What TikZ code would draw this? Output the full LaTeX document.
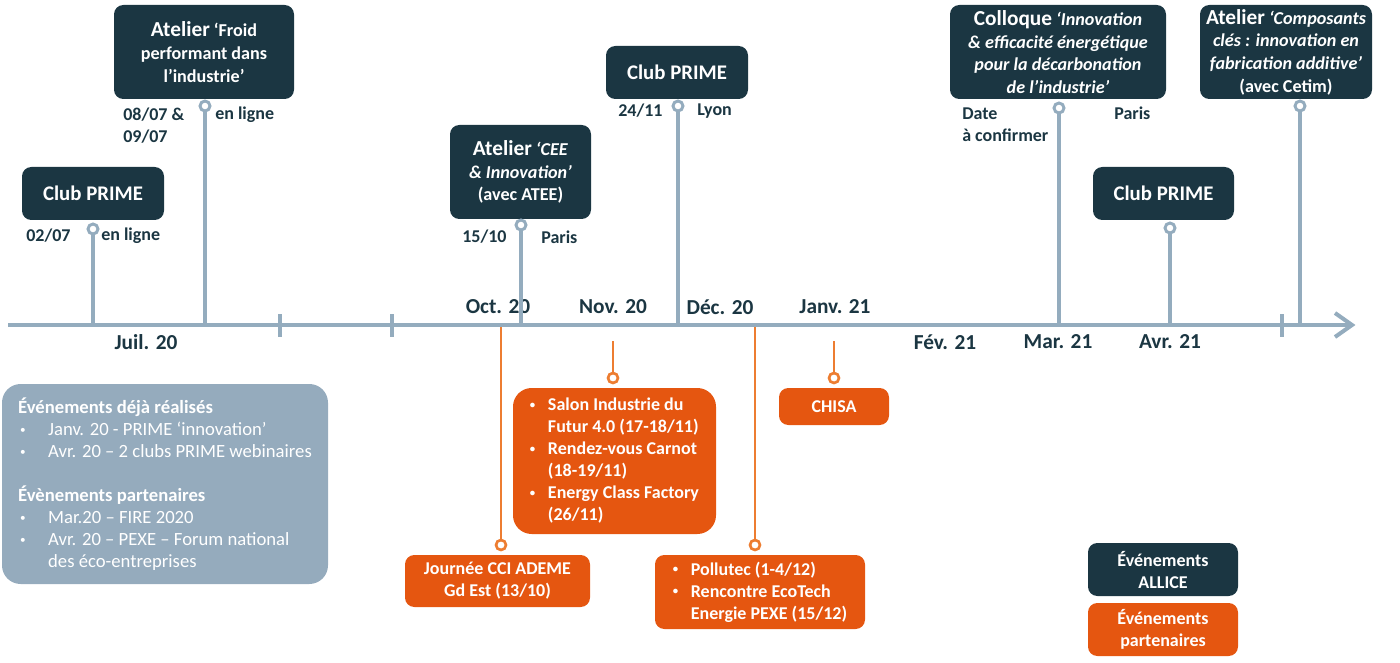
\documentclass[tikz,border=0pt]{standalone}
\usepackage{fontspec}
\setmainfont{Carlito}
\definecolor{navy}{RGB}{27,54,66}
\definecolor{axisc}{RGB}{148,172,190}
\definecolor{orfill}{RGB}{229,86,16}
\definecolor{orline}{RGB}{237,125,49}
\definecolor{legc}{RGB}{149,171,189}
\newcommand\ttl[1]{{\fontsize{16}{17}\selectfont #1}}
\newcommand\smallbul{\raisebox{0.12em}{\scalebox{0.6}{•}}}
\newcommand\bul{\makebox[13.5pt][l]{\smallbul}}
\newcommand\bulind{\hspace*{13.5pt}}
\newcommand\lbul{\makebox[22.5pt][l]{\hspace*{1.5pt}\smallbul}}
\newcommand\lbulind{\hspace*{22.5pt}}
\begin{document}
\begin{tikzpicture}[x=0.75pt,y=-0.75pt,
  every node/.style={inner sep=0pt},
  dbox/.style={fill=navy, rounded corners=7pt, text=white, align=center, font=\bfseries\fontsize{13.6}{17}\selectfont},
  cbox/.style={dbox, font=\bfseries\fontsize{15.6}{17}\selectfont},
  obox/.style={fill=orfill, rounded corners=7pt, text=white, align=center, font=\bfseries\fontsize{13.5}{16.5}\selectfont},
  gline/.style={draw=axisc, line width=2.6pt},
  oline/.style={draw=orline, line width=2.2pt},
  gdot/.style={circle, draw=axisc, line width=2.2pt, fill=white, minimum size=7.5pt},
  odot/.style={circle, draw=orline, line width=2pt, fill=white, minimum size=7.5pt},
  lab/.style={text=navy, font=\bfseries\fontsize{13.5}{16.5}\selectfont, align=left},
  month/.style={text=navy, font=\bfseries\fontsize{16}{18}\selectfont},
  axisline/.style={draw=axisc, line width=3pt},
  tickline/.style={draw=axisc, line width=2.6pt},
]
\useasboundingbox (0,0) rectangle (1400,663);

% axis
\coordinate (axs) at (8,325);
\coordinate (axe) at (1352,325);
\draw[axisline] (axs) -- (axe);
\draw[axisline, line join=miter] (axe) ++(-17,-12) -- (axe) -- ++(-17,12);
\foreach \t/\x in {t1/280,t2/392,t3/1282}{
  \coordinate (\t a) at (\x,314);
  \coordinate (\t b) at (\x,337);
  \draw[tickline] (\t a) -- (\t b);
}

% month labels
\node[month] (mjul) at (146,342) {Juil. 20};
\node[month] (moct) at (498,307) {Oct. 20};
\node[month] (mnov) at (613,307) {Nov. 20};
\node[month] (mdec) at (720,307) {Déc. 20};
\node[month] (mjan) at (835,307) {Janv. 21};
\node[month] (mfev) at (945,342) {Fév. 21};
\node[month] (mmar) at (1058,342) {Mar. 21};
\node[month] (mavr) at (1170,342) {Avr. 21};

% ALLICE boxes
\node[cbox, minimum width=106.5pt, minimum height=39.75pt] (b1) at (93,193.5) {Club PRIME};
\node[dbox, minimum width=135pt, minimum height=70.5pt] (b2) at (204,52) {\ttl{Atelier} ‘Froid\\performant dans\\l’industrie’};
\node[dbox, minimum width=105.75pt, minimum height=70.5pt] (b3) at (520.5,172) {\ttl{Atelier} \textit{‘CEE}\\\textit{\& Innovation’}\\(avec ATEE)};
\node[cbox, minimum width=106.5pt, minimum height=39.75pt] (b4) at (677,72.5) {Club PRIME};
\node[dbox, minimum width=162pt, minimum height=70.5pt] (b5) at (1058,52) {\ttl{Colloque} \textit{‘Innovation}\\\textit{\& efficacité énergétique}\\\textit{pour la décarbonation}\\\textit{de l’industrie’}};
\node[cbox, minimum width=105.75pt, minimum height=39.75pt] (b6) at (1163.5,193.5) {Club PRIME};
\node[dbox, minimum width=129pt, minimum height=70.5pt] (b7) at (1286,52) {\ttl{Atelier} \textit{‘Composants}\\\textit{clés : innovation en}\\\textit{fabrication additive’}\\(avec Cetim)};

% dots and lines (ALLICE)
\node[gdot] (c1) at (93,229) {};
\node[gdot] (c2) at (205,106) {};
\node[gdot] (c3) at (521,225) {};
\node[gdot] (c4) at (678,106) {};
\node[gdot] (c5) at (1059,108) {};
\node[gdot] (c6) at (1170,228) {};
\node[gdot] (c7) at (1300,106) {};
\foreach \c/\x in {c1/93,c2/205,c3/521,c4/678,c5/1059,c6/1170,c7/1300}{
  \coordinate (\c ax) at (\x,325);
  \draw[gline] (\c) -- (\c ax);
}

% date labels
\node[lab, anchor=west] (d1a) at (26,236) {02/07};
\node[lab, anchor=west] (d1b) at (101,236) {en ligne};
\node[lab, anchor=north west] (d2a) at (123,108) {08/07 \&\\09/07};
\node[lab, anchor=west] (d2b) at (215,115) {en ligne};
\node[lab, anchor=west] (d3a) at (462,237) {15/10};
\node[lab, anchor=west] (d3b) at (541,237) {Paris};
\node[lab, anchor=west] (d4a) at (618,111) {24/11};
\node[lab, anchor=west] (d4b) at (697,111) {Lyon};
\node[lab, anchor=north west] (d5a) at (962,108) {Date\\à confirmer};
\node[lab, anchor=west] (d5b) at (1114,113) {Paris};

% partner boxes
\node[obox, minimum width=138.75pt, minimum height=39pt] (o1) at (497.5,581) {Journée CCI ADEME\\Gd Est (13/10)};
\node[obox, rounded corners=14pt, align=left, minimum width=152.25pt, minimum height=109.5pt] (o2) at (614.5,461) {\bul Salon Industrie du\\\bulind Futur 4.0 (17-18/11)\\\bul Rendez-vous Carnot\\\bulind (18-19/11)\\\bul Energy Class Factory\\\bulind (26/11)};
\node[obox, align=left, minimum width=157.5pt, minimum height=55.5pt] (o3) at (760,592) {\bul Pollutec (1-4/12)\\\bul Rencontre EcoTech\\\bulind Energie PEXE (15/12)};
\node[obox, minimum width=82.5pt, minimum height=27.75pt] (o4) at (834,406.5) {CHISA};

\node[odot] (e1) at (501,545) {};
\node[odot] (e2) at (613,378) {};
\node[odot] (e3) at (755,545) {};
\node[odot] (e4) at (834,378) {};
\coordinate (e1ax) at (501,327);
\coordinate (e2ax) at (613,341);
\coordinate (e3ax) at (755,327);
\coordinate (e4ax) at (834,341);
\foreach \e in {e1,e2,e3,e4}{\draw[oline] (\e ax) -- (\e);}

% grey legend
\node[fill=legc, rounded corners=14pt, text=white, align=left, minimum width=244.5pt, minimum height=150pt, font=\fontsize{14}{16.5}\selectfont] (leg) at (165,484) {\textbf{Événements déjà réalisés}\\\lbul Janv. 20 - PRIME ‘innovation’\\\lbul Avr. 20 – 2 clubs PRIME webinaires\\[16.5pt]\textbf{Évènements partenaires}\\\lbul Mar.20 – FIRE 2020\\\lbul Avr. 20 – PEXE – Forum national\\\lbulind des éco-entreprises};

% key
\node[dbox, font=\bfseries\fontsize{13.5}{16.5}\selectfont, minimum width=112.5pt, minimum height=39.75pt] (k1) at (1163,569.5) {Événements\\ALLICE};
\node[obox, minimum width=112.5pt, minimum height=39.75pt] (k2) at (1163,629.5) {Événements\\partenaires};
\end{tikzpicture}
\end{document}
